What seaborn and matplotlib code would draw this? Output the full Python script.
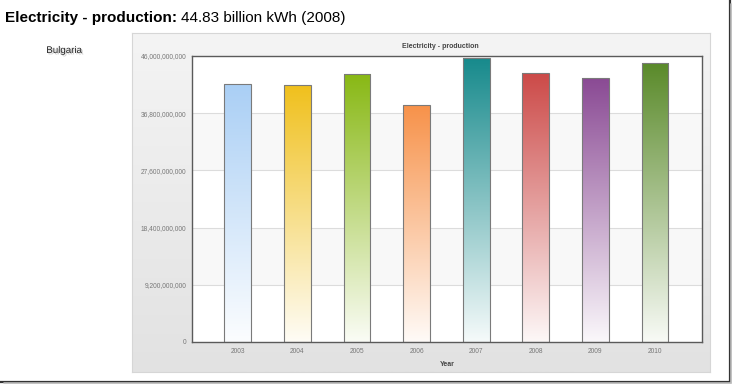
import numpy as np
import pandas as pd
import matplotlib
matplotlib.use("Agg")
import matplotlib.pyplot as plt
import seaborn as sns
from matplotlib.colors import LinearSegmentedColormap, to_rgb
from matplotlib.ticker import FuncFormatter
from matplotlib.lines import Line2D
import matplotlib.patheffects as pe

years = ["2003", "2004", "2005", "2006", "2007", "2008", "2009", "2010"]
production = [41.45e9, 41.4e9, 43.15e9, 38.05e9, 45.65e9, 43.2e9, 42.4e9, 44.85e9]
bar_colors = ["#aacff5", "#f0c01c", "#88b814", "#f7924a",
              "#178a8c", "#cc4a48", "#8a4a94", "#5a8a2a"]
y_ticks = [0, 9.2e9, 18.4e9, 27.6e9, 36.8e9, 46e9]

df = pd.DataFrame({"Year": years, "production": production})

sns.set_style("white")
plt.rcParams["font.family"] = ["Liberation Sans", "DejaVu Sans"]

fig = plt.figure(figsize=(7.32, 3.84), dpi=100)
fig.patch.set_facecolor("white")

# grey chart panel with soft vertical gradient
panel = fig.add_axes([132 / 732, 12 / 384, 578 / 732, 339 / 384])
grad = np.linspace(0, 1, 256).reshape(-1, 1)
panel.imshow(grad, aspect="auto", cmap=LinearSegmentedColormap.from_list(
    "pan", ["#f4f4f4", "#e2e2e2"]), extent=[0, 1, 1, 0])
panel.set_xticks([])
panel.set_yticks([])
for s in panel.spines.values():
    s.set_color("#d6d6d6")
    s.set_linewidth(0.8)

ax = fig.add_axes([192 / 732, 42 / 384, 509.5 / 732, 286 / 384])
ax.set_facecolor("white")

sns.barplot(data=df, x="Year", y="production", hue="Year", palette=bar_colors,
            width=0.45, legend=False, ax=ax, edgecolor="#7a7a7a",
            linewidth=0.8, saturation=1)

# alternating bands + grid lines, kept below the bars
for i in range(len(y_ticks) - 1):
    if i % 2 == 1:
        ax.axhspan(y_ticks[i], y_ticks[i + 1], color="#f8f8f8", zorder=0.2, lw=0)
for t in y_ticks[1:-1]:
    ax.axhline(t, color="#dcdcdc", lw=0.8, zorder=0.5)

# gradient fill inside each bar
bars = [b for c in ax.containers for b in c]
for patch, col in zip(bars, bar_colors):
    x0, y0 = patch.get_x(), patch.get_y()
    w, h = patch.get_width(), patch.get_height()
    c = np.array(to_rgb(col))
    light = c + (1 - c) * 0.96
    cmap = LinearSegmentedColormap.from_list("g", [light, c])
    im = ax.imshow(grad, aspect="auto", cmap=cmap, origin="lower",
                   extent=[x0, x0 + w, y0, y0 + h], zorder=3)
    im.set_clip_path(patch)
    patch.set_facecolor("none")
    patch.set_zorder(4)

ax.set_xlim(-0.77, 7.78)
ax.set_ylim(0, 46e9)
ax.set_yticks(y_ticks)
ax.yaxis.set_major_formatter(FuncFormatter(lambda v, p: f"{int(v):,}"))
ax.tick_params(axis="both", length=0, labelsize=4.8, labelcolor="#777777")
ax.tick_params(axis="y", pad=4)
ax.tick_params(axis="x", pad=4)
ax.set_xlabel("Year", fontsize=5, fontweight="bold", color="#444444")
ax.xaxis.set_label_coords((447 - 192) / 509.5, -0.065)
ax.set_ylabel("")
for s in ax.spines.values():
    s.set_visible(True)
    s.set_color("#5a5a5a")
    s.set_linewidth(1.0)
    s.set_zorder(5)

fig.text(440 / 732, 1 - 46 / 384, "Electricity - production", fontsize=5,
         fontweight="bold", color="#444444", ha="center", va="center")

t1 = fig.text(5 / 732, 1 - 18 / 384, "Electricity - production:", fontsize=11,
              fontweight="bold", color="black", ha="left", va="center")
fig.canvas.draw()
bb = t1.get_window_extent()
fig.text(bb.x1 / 732 + 4 / 732, 1 - 18 / 384, "44.83 billion kWh (2008)",
         fontsize=11, color="black", ha="left", va="center")

fig.text(64 / 732, 1 - 50 / 384, "Bulgaria", fontsize=7, color="#222222",
         ha="center", va="center",
         path_effects=[pe.withSimplePatchShadow(offset=(1, -1), shadow_rgbFace="#999999", alpha=0.5)])

# screenshot frame edges
fig.add_artist(Line2D([729.5 / 732, 729.5 / 732], [2.5 / 384, 1], color="#333333", lw=1.6))
fig.add_artist(Line2D([0, 729.5 / 732], [2.5 / 384, 2.5 / 384], color="#333333", lw=1.6))
fig.add_artist(Line2D([731 / 732, 731 / 732], [1 / 384, 0.99], color="#bbbbbb", lw=1.2))
fig.add_artist(Line2D([0.005, 731 / 732], [1 / 384, 1 / 384], color="#bbbbbb", lw=1.2))

fig.savefig("out.png", dpi=100)
